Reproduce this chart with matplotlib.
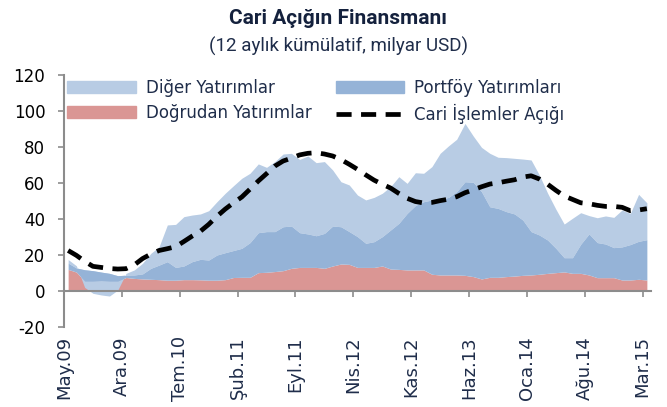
import matplotlib
matplotlib.use("Agg")
import matplotlib.pyplot as plt
import numpy as np
from matplotlib.patches import Patch
from matplotlib.lines import Line2D

plt.rcParams["axes.unicode_minus"] = False

# --- data (12-month cumulative, billion USD), monthly May.09 .. Mar.15 ---
tick_labels = ["May.09", "Ara.09", "Tem.10", "Şub.11", "Eyl.11", "Nis.12",
               "Kas.12", "Haz.13", "Oca.14", "Ağu.14", "Mar.15"]

dogrudan = [12.0, 10.5, 5.5, 5.5, 5.8, 5.5, 5.5, 7.5, 7.0, 6.7,
            6.5, 6.3, 6.0, 6.0, 6.3, 6.3, 6.2, 6.0, 6.0, 6.3,
            7.5, 7.6, 7.6, 10.2, 10.4, 10.8, 11.3, 12.6, 13.1, 13.1,
            13.1, 12.6, 13.9, 15.0, 14.8, 13.1, 13.1, 13.1, 13.9, 12.2,
            12.0, 11.7, 11.7, 11.7, 9.3, 8.9, 8.9, 8.9, 8.7, 8.0,
            6.7, 7.6, 7.6, 8.0, 8.3, 8.7, 8.9, 9.3, 9.8, 10.2,
            10.6, 9.8, 9.8, 8.9, 7.4, 7.4, 7.4, 6.1, 6.1, 6.5,
            6.1]

portfoy = [3.5, 2.3, 6.3, 5.8, 4.7, 4.3, 3.0, 1.3, 1.9, 2.8,
           6.1, 8.1, 10.3, 7.1, 7.6, 10.0, 11.4, 11.2, 14.0, 15.0,
           15.0, 16.1, 19.3, 22.2, 22.6, 22.2, 24.4, 23.5, 19.3, 18.6,
           17.6, 19.4, 22.2, 20.7, 18.2, 17.1, 13.4, 14.3, 16.3, 21.7,
           25.6, 31.4, 35.8, 37.9, 41.3, 42.0, 43.1, 46.3, 52.0, 52.4,
           48.5, 39.2, 38.3, 36.1, 34.5, 30.7, 24.1, 21.8, 18.5, 13.5,
           7.9, 8.7, 16.2, 22.8, 19.5, 18.7, 16.7, 18.4, 19.7, 21.1,
           22.4]

diger = [2.0, 1.2, -9.8, -12.6, -12.7, -12.6, -8.0, 1.0, 2.8, 5.9,
         8.3, 10.2, 20.4, 23.9, 27.4, 25.9, 25.2, 27.4, 29.6, 33.0,
         36.0, 38.9, 38.5, 38.2, 35.7, 38.9, 40.4, 40.4, 40.7, 43.3,
         40.6, 39.9, 31.1, 25.0, 25.9, 23.1, 24.1, 24.6, 24.1, 24.1,
         25.9, 16.7, 18.2, 15.8, 18.5, 25.6, 28.6, 29.1, 32.4, 25.7,
         24.6, 29.7, 28.4, 30.0, 30.9, 33.9, 39.8, 33.3, 26.0, 21.7,
         18.7, 21.9, 17.5, 10.2, 13.8, 15.6, 16.8, 20.5, 17.3, 26.1,
         20.5]

cari_acik = [22.5, 19.8, 16.5, 13.7, 13.1, 12.5, 12.2, 12.4, 14.5, 18.0,
             20.5, 22.5, 23.5, 24.6, 27.5, 30.5, 33.2, 37.0, 41.5, 45.5,
             49.0, 52.2, 56.6, 61.1, 65.2, 69.4, 72.2, 73.8, 75.6, 76.5,
             76.8, 76.1, 75.0, 73.0, 70.4, 67.6, 64.5, 61.6, 59.3, 57.2,
             54.2, 51.5, 49.7, 48.9, 49.2, 50.2, 51.0, 52.4, 54.6, 56.2,
             57.9, 59.4, 60.1, 61.0, 61.8, 63.3, 64.0, 62.2, 59.3, 55.9,
             52.8, 50.9, 49.0, 48.5, 47.6, 47.0, 47.0, 46.5, 44.6, 45.0,
             45.7]

# --- styling ---
C_RED = "#DA9694"
C_BLUE = "#95B3D7"
C_LIGHT = "#B8CCE4"
C_TEXT = "#1F2D4A"
C_AXIS = "#8C8C8C"

fig = plt.figure(figsize=(6.67, 4.07), dpi=100)
ax = fig.add_axes([64/667, 80/407, (651-64)/667, (327-75)/407])

for s in ["top", "right"]:
    ax.spines[s].set_visible(False)
ax.spines["bottom"].set_position(("data", 0))
for s in ["left", "bottom"]:
    ax.spines[s].set_color(C_AXIS)
    ax.spines[s].set_linewidth(1.5)
    ax.spines[s].set_zorder(6)

x = np.arange(len(dogrudan))
d = np.array(dogrudan)
p = np.array(portfoy)
o = np.array(diger)
c1 = d
c2 = d + p
c3 = d + p + o

ax.fill_between(x, 0, c1, color=C_RED, lw=0, zorder=1)
ax.fill_between(x, c2, c3, color=C_LIGHT, lw=0, zorder=2)
ax.fill_between(x, c1, c2, color=C_BLUE, lw=0, zorder=3)
ax.plot(x, cari_acik, color="black", lw=3.4, ls=(0, (3.2, 2.0)),
        dash_capstyle="butt", zorder=5)

ax.set_xlim(-0.5, len(x) - 0.5)
ax.set_ylim(-20, 120)
ax.set_yticks(np.arange(-20, 121, 20))
tick_pos = np.arange(len(tick_labels)) * 7 - 0.5
ax.set_xticks(tick_pos)
ax.set_xticklabels(tick_labels)

ax.tick_params(axis="y", length=4.5, width=1.2, color=C_AXIS, pad=9,
               labelsize=12, labelcolor="black")
ax.tick_params(axis="x", length=4.5, width=1.2, color=C_AXIS, pad=28,
               labelsize=13, labelcolor=C_TEXT, labelrotation=90)
for t in ax.get_xticklabels():
    t.set_ha("center")
    t.set_va("top")

handles = [Patch(color=C_LIGHT, label="Diğer Yatırımlar"),
           Patch(color=C_RED, label="Doğrudan Yatırımlar"),
           Patch(color=C_BLUE, label="Portföy Yatırımları"),
           Line2D([0], [0], color="black", lw=3.4, ls=(0, (3.2, 2.0)),
                  label="Cari İşlemler Açığı")]
leg = ax.legend(handles=handles, ncol=2, loc="upper left",
                bbox_to_anchor=(-0.02, 1.045), frameon=False,
                fontsize=12, handlelength=4.1, handleheight=0.7,
                columnspacing=1.45, labelspacing=0.45, handletextpad=0.6)
for t in leg.get_texts():
    t.set_color(C_TEXT)

fig.text(0.507, 0.955, "Cari Açığın Finansmanı", ha="center", va="center",
         fontsize=15, fontweight="bold", color="#14213D",
         family=["Liberation Sans Narrow", "Roboto", "DejaVu Sans"])
fig.text(0.507, 0.885, "(12 aylık kümülatif, milyar USD)", ha="center",
         va="center", fontsize=13.5, color=C_TEXT,
         family=["Liberation Sans Narrow", "Roboto", "DejaVu Sans"])

fig.savefig("out.png", dpi=100)
